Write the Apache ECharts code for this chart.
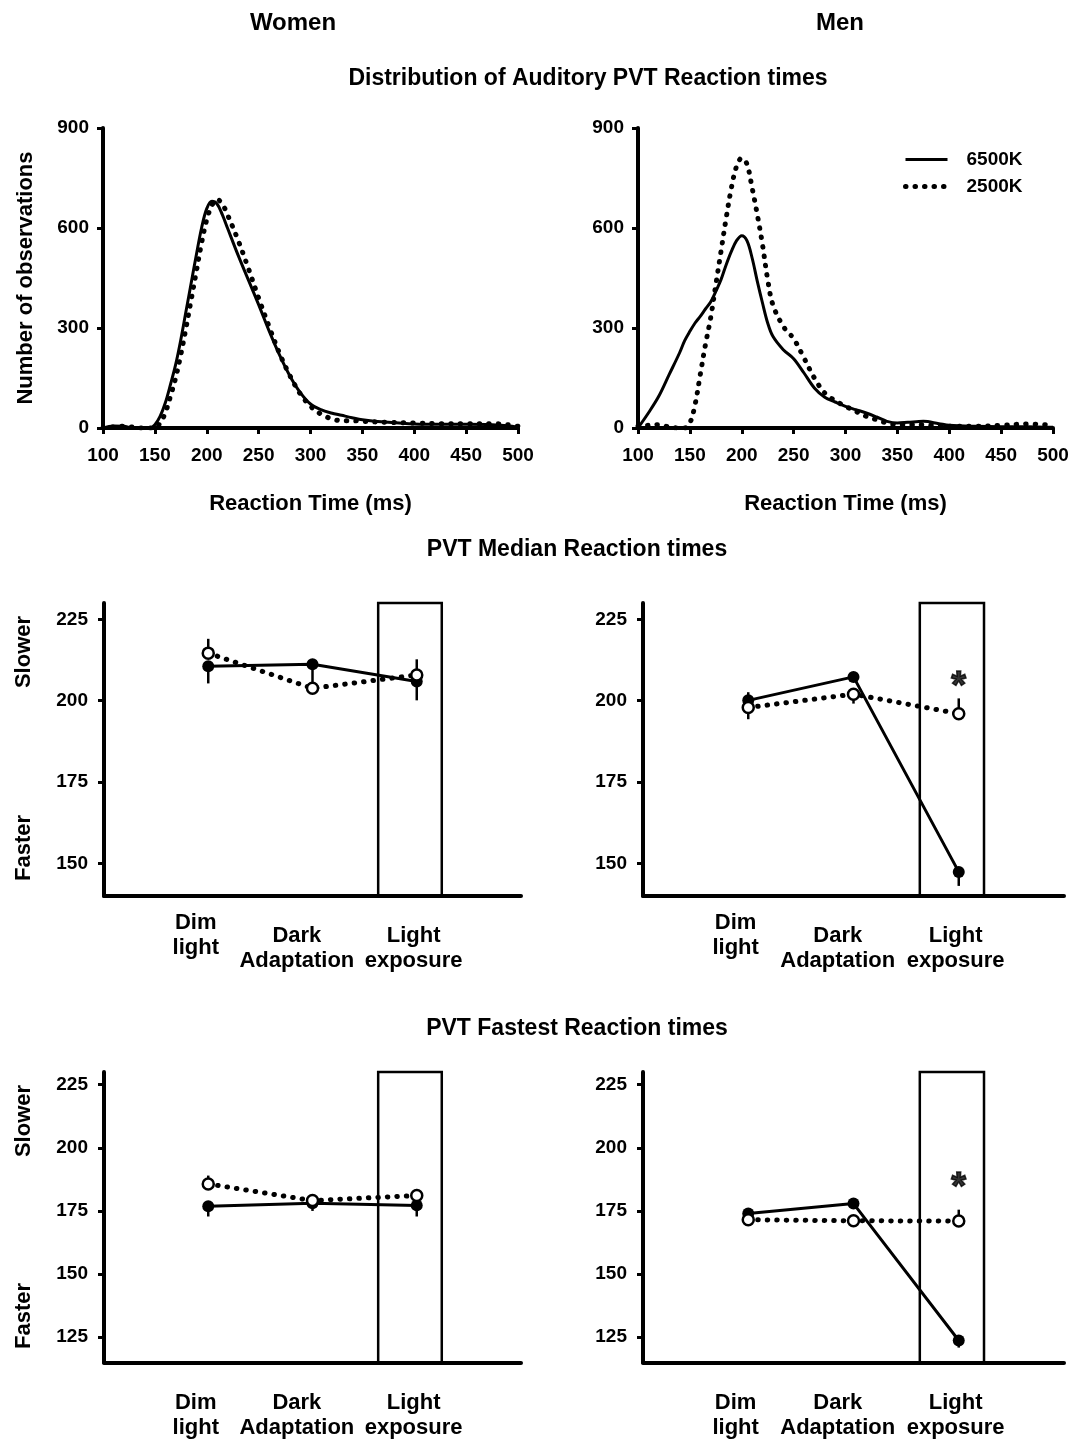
<!DOCTYPE html>
<html><head><meta charset="utf-8">
<script src="https://cdn.jsdelivr.net/npm/echarts@6/dist/echarts.min.js"></script>
<style>html,body{margin:0;padding:0;background:#fff}#c{width:1072px;height:1439px}</style>
</head><body><div id="c"></div>
<script>
// ---------- Distribution of reaction times (histogram curves) ----------
const distTimesWomen = [100,110,120,130,140,145,150,155,160,165,170,175,180,185,190,195,200,205,210,215,220,230,240,250,260,270,280,290,300,310,320,330,340,350,375,400,425,450,475,490,500];
const distWomen6500K = [0,6,5,0,0,0,10,35,75,130,190,265,350,435,520,600,658,680,672,640,600,520,445,370,292,220,157,107,72,55,45,38,31,25,17,12,11,11,10,7,2];
const distWomen2500K = [0,3,5,2,0,0,0,15,45,95,150,220,300,385,470,555,625,668,686,672,640,565,480,390,305,225,158,103,65,42,28,22,22,20,17,15,13,13,13,10,5];

const distTimesMen = [100,110,120,130,140,145,150,155,160,165,170,175,180,185,190,195,200,205,210,215,220,225,230,240,250,260,270,280,290,300,310,320,330,340,350,360,375,390,400,425,450,475,500];
const distMen6500K = [0,45,95,160,225,262,290,315,335,357,378,410,445,490,530,562,577,562,510,440,375,315,275,235,208,165,120,92,78,65,55,45,33,20,15,17,20,13,8,5,4,4,2];
const distMen2500K = [5,8,10,3,0,0,15,70,160,250,330,430,530,630,720,785,810,792,720,640,550,445,370,305,268,210,150,105,82,65,50,35,25,15,10,10,10,6,5,5,8,12,8];

const distXTicks = {min:100, max:500, step:50};
const distYTicks = {min:0, max:900, step:300};

// ---------- Median / fastest reaction times ----------
const conditions = ['Dim\nlight', 'Dark\nAdaptation', 'Light\nexposure'];
const conditionX = [1, 2, 3];
const conditionLabelX = [0.88, 1.85, 2.97];
const lightExposureSpan = [2.63, 3.24];

const medianTicks = [150, 175, 200, 225];
const fastestTicks = [125, 150, 175, 200, 225];

const medianWomen6500K = [210.6, 211.2, 205.9];
const medianWomen6500KErr = [-5.3, -6.5, -5.8];
const medianWomen2500K = [214.6, 203.8, 207.9];
const medianWomen2500KErr = [4.4, -1.0, 4.8];
const medianMen6500K = [200.1, 207.3, 147.4];
const medianMen6500KErr = [2.5, 1.2, -4.3];
const medianMen2500K = [197.9, 202.0, 196.0];
const medianMen2500KErr = [-3.6, -2.9, 4.7];
const medianMenStar = [3, 207.2];

const fastestWomen6500K = [176.9, 178.0, 177.2];
const fastestWomen6500KErr = [-4.1, -3.0, -4.4];
const fastestWomen2500K = [185.7, 179.1, 181.1];
const fastestWomen2500KErr = [3.3, 2.5, 2.6];
const fastestMen6500K = [174.0, 177.9, 123.7];
const fastestMen6500KErr = [1.5, 1.0, -2.8];
const fastestMen2500K = [171.5, 171.1, 171.0];
const fastestMen2500KErr = [-1.5, -1.5, 4.5];
const fastestMenStar = [3, 188.0];

// ---------- chart ----------
const FONT = '"Liberation Sans", Arial, sans-serif';
const K = '#000';
const zip = (xs, ys) => xs.map((x, i) => [x, ys[i]]);
const DOT = [0.5, 9];
const SOLID_LINE = {color:K, width:3, type:'solid'};
const DOTTED_LINE = {color:K, width:5, type:DOT, cap:'round'};

const grids = [
  {left:103, top:128, width:415, height:300},
  {left:638, top:128, width:415, height:300},
  {left:104, top:603, width:417, height:293},
  {left:643, top:603, width:421, height:293},
  {left:104, top:1072, width:417, height:291},
  {left:643, top:1072, width:421, height:291}
];

const axisLine = {show:true, onZero:false, lineStyle:{color:K, width:4}};
const tickLabel = (margin) => ({color:K, fontSize:19, fontWeight:'bold', fontFamily:FONT, margin:margin});

function catFormatter(spacer) {
  return function (v) {
    const i = conditionLabelX.findIndex(p => Math.abs(p - v) < 1e-6);
    if (i < 0) return '';
    const lines = conditions[i].split('\n').map(s => '{c|' + s + '}').join('\n');
    return (spacer && i > 0 ? '{s| }\n' : '') + lines;
  };
}
const catRich = {
  c:{fontSize:22, fontWeight:'bold', fontFamily:FONT, color:K, lineHeight:25},
  s:{fontSize:10, lineHeight:13}
};

const xAxes = [], yAxes = [];
[0, 1].forEach(g => {
  xAxes.push({type:'value', gridIndex:g, min:distXTicks.min, max:distXTicks.max, interval:distXTicks.step,
    axisLine, axisTick:{show:true, length:6, lineStyle:{color:K, width:3}},
    axisLabel:tickLabel(18), splitLine:{show:false},
    name:'Reaction Time (ms)', nameLocation:'middle', nameGap:65,
    nameTextStyle:{color:K, fontSize:22, fontWeight:'bold', fontFamily:FONT}});
  yAxes.push({type:'value', gridIndex:g, min:distYTicks.min, max:distYTicks.max, interval:distYTicks.step,
    axisLine, axisTick:{show:true, length:6, lineStyle:{color:K, width:3}},
    axisLabel:tickLabel(14), splitLine:{show:false},
    name: g === 0 ? 'Number of observations' : '', nameLocation:'middle', nameGap:66,
    nameTextStyle:{color:K, fontSize:22, fontWeight:'bold', fontFamily:FONT}});
});
[2, 3, 4, 5].forEach(g => {
  const median = g < 4;
  xAxes.push({type:'value', gridIndex:g, min:0, max:4,
    axisLine, axisTick:{show:false}, splitLine:{show:false},
    axisLabel:{customValues:conditionLabelX, formatter:catFormatter(median), rich:catRich,
      margin: median ? 14 : 28, color:K, fontFamily:FONT}});
  const ticks = median ? medianTicks : fastestTicks;
  yAxes.push({type:'value', gridIndex:g, min: median ? 140 : 115, max:230,
    axisLine, axisTick:{show:true, customValues:ticks, length:6, lineStyle:{color:K, width:3}},
    axisLabel:Object.assign({customValues:ticks}, tickLabel(16)), splitLine:{show:false}});
});

const series = [];
function distSeries(name, g, xs, ys, dotted) {
  series.push({name, type:'line', xAxisIndex:g, yAxisIndex:g, data:zip(xs, ys), smooth:0.35,
    symbol:'none', showSymbol:false,
    lineStyle: dotted ? DOTTED_LINE : SOLID_LINE,
    itemStyle:{color:K}, z: dotted ? 3 : 4});
}
distSeries('Women 6500K', 0, distTimesWomen, distWomen6500K, false);
distSeries('Women 2500K', 0, distTimesWomen, distWomen2500K, true);
distSeries('6500K', 1, distTimesMen, distMen6500K, false);
distSeries('2500K', 1, distTimesMen, distMen2500K, true);

function errSeries(g, vals, errs) {
  series.push({type:'custom', xAxisIndex:g, yAxisIndex:g, z:2, silent:true,
    data: conditionX.map((x, i) => [x, vals[i], vals[i] + errs[i]]),
    renderItem: (params, api) => {
      const a = api.coord([api.value(0), api.value(1)]);
      const b = api.coord([api.value(0), api.value(2)]);
      return {type:'line', shape:{x1:a[0], y1:a[1], x2:b[0], y2:b[1]}, style:{stroke:K, lineWidth:2.5}};
    }});
}
function rtPanel(g, prefix, v65, e65, v25, e25, yMin, star) {
  errSeries(g, v65, e65);
  errSeries(g, v25, e25);
  series.push({name:prefix + ' 6500K', type:'line', xAxisIndex:g, yAxisIndex:g, z:4,
    data:zip(conditionX, v65), symbol:'circle', symbolSize:12,
    lineStyle:SOLID_LINE, itemStyle:{color:K},
    markArea:{silent:true, itemStyle:{color:'rgba(0,0,0,0)', borderColor:K, borderWidth:2.5},
      data:[[{xAxis:lightExposureSpan[0], yAxis:230}, {xAxis:lightExposureSpan[1], yAxis:yMin}]]}});
  series.push({name:prefix + ' 2500K', type:'line', xAxisIndex:g, yAxisIndex:g, z:5,
    data:zip(conditionX, v25), symbol:'circle', symbolSize:11,
    lineStyle:DOTTED_LINE,
    itemStyle:{color:'#fff', borderColor:K, borderWidth:2.5}});
  if (star) {
    series.push({type:'scatter', xAxisIndex:g, yAxisIndex:g, z:6, silent:true,
      data:[star], symbolSize:1, itemStyle:{color:'rgba(0,0,0,0)'},
      label:{show:true, position:'inside', formatter:'*', fontSize:38, fontWeight:'bold',
        fontFamily:FONT, color:K, textBorderColor:K, textBorderWidth:1.5, offset:[0, 10]}});
  }
}
rtPanel(2, 'Median women', medianWomen6500K, medianWomen6500KErr, medianWomen2500K, medianWomen2500KErr, 140, null);
rtPanel(3, 'Median men', medianMen6500K, medianMen6500KErr, medianMen2500K, medianMen2500KErr, 140, medianMenStar);
rtPanel(4, 'Fastest women', fastestWomen6500K, fastestWomen6500KErr, fastestWomen2500K, fastestWomen2500KErr, 115, null);
rtPanel(5, 'Fastest men', fastestMen6500K, fastestMen6500KErr, fastestMen2500K, fastestMen2500KErr, 115, fastestMenStar);

const txt = (text, x, y, size, rot) => ({type:'text', x, y, rotation: rot || 0,
  style:{text, fill:K, font:'bold ' + size + 'px ' + FONT, align:'center', verticalAlign:'middle'}});

const option = {
  animation:false,
  backgroundColor:'#fff',
  grid:grids,
  xAxis:xAxes,
  yAxis:yAxes,
  legend:{
    data:[
      {name:'6500K', lineStyle:SOLID_LINE},
      {name:'2500K', lineStyle:DOTTED_LINE}
    ],
    orient:'vertical', left:903, top:150, padding:0,
    itemWidth:42, itemHeight:12, itemGap:8,
    itemStyle:{color:'rgba(0,0,0,0)', borderWidth:0},
    textStyle:{color:K, fontSize:19, fontWeight:'bold', fontFamily:FONT, padding:[0,0,0,14]}, selectedMode:false},
  graphic:[
    txt('Women', 293, 23, 24),
    txt('Men', 840, 23, 24),
    txt('Distribution of Auditory PVT Reaction times', 588, 79, 23),
    txt('PVT Median Reaction times', 577, 550, 23),
    txt('PVT Fastest Reaction times', 577, 1029, 23),
    txt('Slower', 24, 652, 22, Math.PI / 2),
    txt('Faster', 24, 848, 22, Math.PI / 2),
    txt('Slower', 24, 1121, 22, Math.PI / 2),
    txt('Faster', 24, 1316, 22, Math.PI / 2)
  ],
  series
};
const chart = echarts.init(document.getElementById('c'));
chart.setOption(option);
</script>
</body></html>
